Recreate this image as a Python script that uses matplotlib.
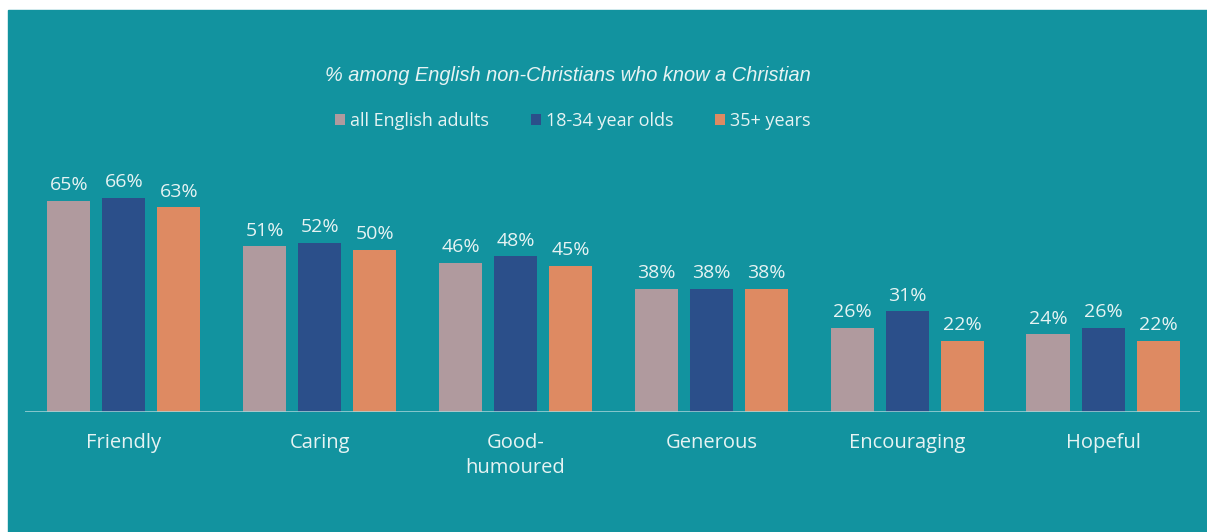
import matplotlib.pyplot as plt
from matplotlib.patches import Rectangle
import numpy as np

categories = ['Friendly', 'Caring', 'Good-\nhumoured', 'Generous', 'Encouraging', 'Hopeful']
series_names = ['all English adults', '18-34 year olds', '35+ years']
all_adults = [65, 51, 46, 38, 26, 24]
age_18_34 = [66, 52, 48, 38, 31, 26]
age_35_plus = [63, 50, 45, 38, 22, 22]
title = '% among English non-Christians who know a Christian'

teal = '#12939f'
txt = '#e6f3f3'
colors = ['#b09a9e', '#2b4f8a', '#de8a62']

W, H = 1207, 532
fig = plt.figure(figsize=(W / 100, H / 100), dpi=100)
fig.patch.set_facecolor('white')
fig.patches.append(Rectangle((8 / W, 0), 1 - 8 / W, (H - 10) / H,
                             transform=fig.transFigure, color=teal, zorder=-1))

# plot area: baseline at y=412px, 3.25 px per percent
ax = fig.add_axes([25 / W, (H - 412) / H, 1175 / W, 325 / H])
ax.patch.set_visible(False)
for s in ax.spines.values():
    s.set_visible(False)

x = np.arange(len(categories))
off = 0.281
bw = 0.22
for i, (vals, c) in enumerate(zip([all_adults, age_18_34, age_35_plus], colors)):
    pos = x + (i - 1) * off
    bars = ax.bar(pos, vals, width=bw, color=c, label=series_names[i], zorder=2)
    for b, v in zip(bars, vals):
        ax.text(b.get_x() + b.get_width() / 2, v + 2.0, f'{v}%', ha='center', va='bottom',
                color=txt, fontsize=14, family='Open Sans')

ax.axhline(0, color='#a9d6da', lw=1.8, zorder=3)
ax.set_xlim(-0.505, 5.495)
ax.set_ylim(0, 100)
ax.set_yticks([])
ax.set_xticks(x)
ax.set_xticklabels(categories, color=txt, fontsize=14.5, family='Open Sans', linespacing=1.35)
ax.tick_params(axis='x', length=0, pad=15)
for lbl in ax.get_xticklabels():
    lbl.set_va('top')

fig.text(568 / W, 1 - 76 / H, title, ha='center', va='center', color=txt,
         fontsize=14.4, style='italic', family='Liberation Sans')

leg = fig.legend(loc='center', bbox_to_anchor=(573 / W, 1 - 121 / H), ncol=3, frameon=False,
                 handlelength=0.55, handleheight=0.55, handletextpad=0.3, columnspacing=2.3,
                 prop={'family': 'Open Sans', 'size': 13})
for t in leg.get_texts():
    t.set_color(txt)

fig.savefig('out.png', dpi=100, facecolor=fig.get_facecolor())
